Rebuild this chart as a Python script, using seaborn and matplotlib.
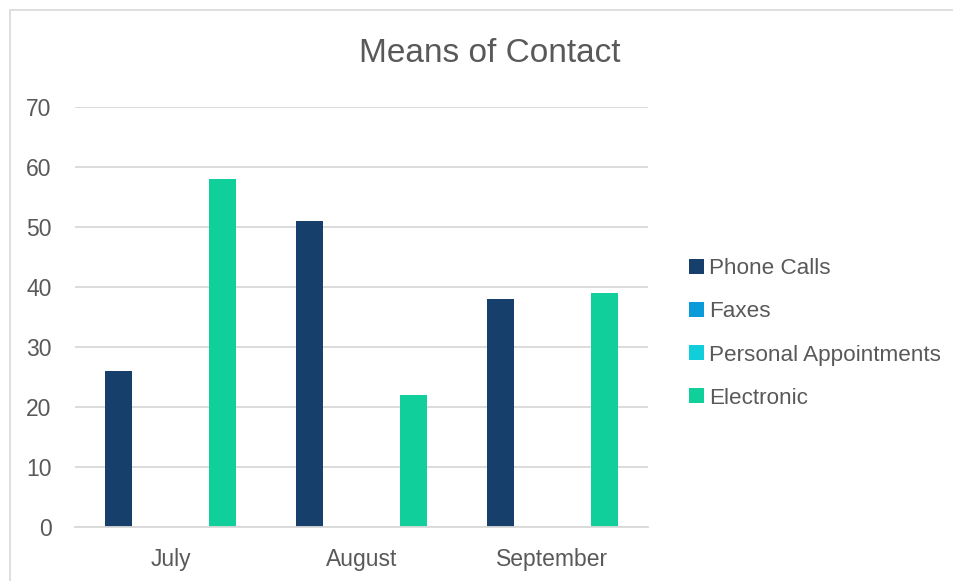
import matplotlib
matplotlib.use("Agg")
import matplotlib.pyplot as plt
import seaborn as sns
import pandas as pd
from matplotlib.patches import Rectangle

months = ["July", "August", "September"]
series = ["Phone Calls", "Faxes", "Personal Appointments", "Electronic"]
phone_calls = [26, 51, 38]
faxes = [0, 0, 0]
personal_appointments = [0, 0, 0]
electronic = [58, 22, 39]
colors = ["#173F6B", "#0B9BD8", "#10CFDB", "#10CF9B"]
yticks = [0, 10, 20, 30, 40, 50, 60, 70]

rows = []
for name, vals in zip(series, [phone_calls, faxes, personal_appointments, electronic]):
    for m, v in zip(months, vals):
        rows.append({"Month": m, "Series": name, "Value": v})
df = pd.DataFrame(rows)

sns.set_theme(style="white")
plt.rcParams["font.family"] = ["Liberation Sans", "DejaVu Sans"]
txt = "#595959"

fig = plt.figure(figsize=(9.54, 5.81), dpi=100)
ax = fig.add_axes([75/954, 1-527/581, (648-75)/954, (527-107)/581])

sns.barplot(data=df, x="Month", y="Value", hue="Series", order=months,
            hue_order=series, palette=colors, width=0.727, gap=0.22,
            saturation=1, ax=ax, legend=True, linewidth=0)

ax.set_xlim(-0.5, 2.5)
ax.set_ylim(0, 70)
ax.set_yticks(yticks)
ax.yaxis.grid(True, color="#D9D9D9", linewidth=1.3)
ax.set_axisbelow(True)
for s in ["top", "right", "left"]:
    ax.spines[s].set_visible(False)
ax.spines["bottom"].set_color("#D9D9D9")
ax.spines["bottom"].set_linewidth(1.3)
ax.set_xlabel("")
ax.set_ylabel("")
ax.tick_params(axis="both", length=0, labelsize=16.5, labelcolor=txt)
ax.tick_params(axis="y", pad=17)
ax.tick_params(axis="x", pad=15)

handles, labels = ax.get_legend_handles_labels()
ax.legend_.remove()
leg = fig.legend(handles, labels, loc="center left", bbox_to_anchor=(689/954, 1-333.5/581),
                 frameon=False, fontsize=16.2, labelcolor=txt, handlelength=0.65,
                 handleheight=0.65, handletextpad=0.25, labelspacing=0.98,
                 borderpad=0, borderaxespad=0)

fig.text(490/954, 1-54/581, "Means of Contact", ha="center", va="center",
         fontsize=24, color=txt)

fig.patches.append(Rectangle((10/954, -0.01), 1.0, 1 - 10/581 + 0.01, transform=fig.transFigure,
                             fill=False, edgecolor="#D9D9D9", linewidth=1.2))

fig.savefig("out.png", dpi=100, facecolor="white")
